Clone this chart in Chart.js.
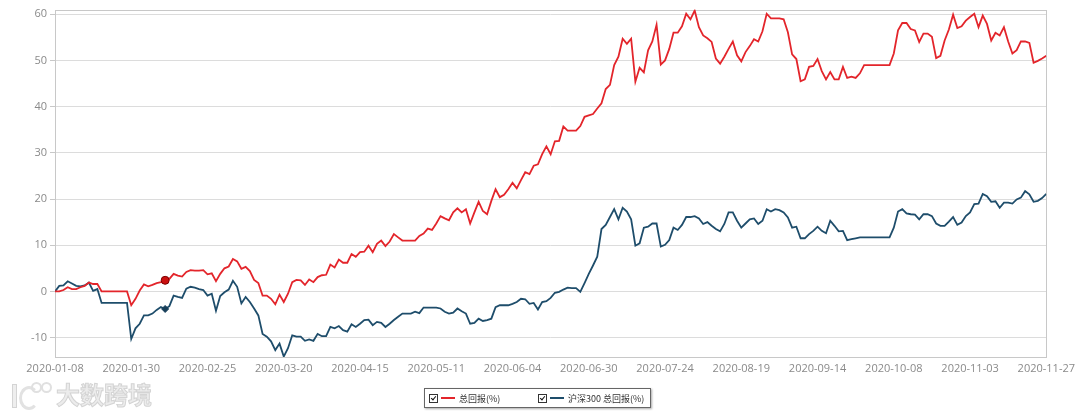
<!DOCTYPE html>
<html>
<head>
<meta charset="utf-8">
<script src="https://cdn.jsdelivr.net/npm/chart.js@4.4.0/dist/chart.umd.min.js"></script>
<style>
html,body{margin:0;padding:0;background:#fff;}
#wrap{position:relative;width:1080px;height:414px;overflow:hidden;background:#fff;}
#chartBox{position:absolute;left:0;top:0;width:1080px;height:414px;}
#legend{position:absolute;left:424px;top:388px;width:225px;height:18px;border:1px solid #666;box-shadow:1px 1px 2px #aaa;background:#fff;font-family:"Noto Sans CJK SC","Open Sans",sans-serif;font-size:9px;color:#333;}
.item{position:absolute;top:0;height:18px;display:flex;align-items:center;white-space:nowrap;}
.cb{width:7px;height:7px;border:1px solid #333;position:relative;background:#fff;}
.cb:after{content:"";position:absolute;left:2px;top:0px;width:2px;height:4px;border:solid #111;border-width:0 1.5px 1.5px 0;transform:rotate(40deg);}
.ln{width:14px;height:2px;margin:0 4px 0 3px;}
#wm{position:absolute;left:8px;top:378px;width:140px;height:34px;font-family:"Noto Sans CJK SC",sans-serif;white-space:nowrap;}
#wm .txt{position:absolute;left:48px;top:-2px;font-size:24px;font-weight:bold;color:#ececec;letter-spacing:0px;-webkit-text-stroke:1px #d4d4d4;white-space:nowrap;}
#wm .logo1{position:absolute;left:4px;top:6px;width:3px;height:22px;border:1px solid #d4d4d4;background:#eee;}
#wm .logo2{position:absolute;left:11px;top:8px;width:14px;height:18px;border:3px solid #e2e2e2;border-right-color:transparent;border-radius:50%;}
#wm .o1,#wm .o2{position:absolute;top:4px;width:7px;height:7px;border:2px solid #e0e0e0;border-radius:50%;}
#wm .o1{left:23px;} #wm .o2{left:33px;}
</style>
</head>
<body>
<div id="wrap">
  <div id="chartBox"><canvas id="c"></canvas></div>
  <div id="wm"><div class="logo1"></div><div class="logo2"></div><div class="o1"></div><div class="o2"></div><span class="txt">大数跨境</span></div>
  <div id="legend">
    <div class="item" style="left:4px;"><span class="cb"></span><span class="ln" style="background:#e3252b"></span><span>总回报(%)</span></div>
    <div class="item" style="left:113px;"><span class="cb"></span><span class="ln" style="background:#1e4d6b"></span><span>沪深300 总回报(%)</span></div>
  </div>
</div>
<script>
// ---- data ----
const tickLabels = ["2020-01-08","2020-01-30","2020-02-25","2020-03-20","2020-04-15","2020-05-11","2020-06-04","2020-06-30","2020-07-24","2020-08-19","2020-09-14","2020-10-08","2020-11-03","2020-11-27"];
const labelStep = 18; // points between shown date labels
const yTickValues = [-10,0,10,20,30,40,50,60];
const seriesNames = ["总回报(%)","沪深300 总回报(%)"];
const fundReturn = [
 0,0,0.3,0.9,0.5,0.5,0.9,1.2,1.9,1.6,
 1.6,0,0,0,0,0,0,0,-3.0,-1.6,
 0.2,1.5,1.1,1.4,1.8,2.0,2.4,2.7,3.8,3.4,
 3.2,4.2,4.6,4.5,4.5,4.6,3.7,3.9,2.2,3.8,
 5.0,5.4,7.0,6.5,4.9,5.3,4.4,2.5,1.8,-0.9,
 -0.9,-1.6,-2.8,-0.7,-2.3,-0.5,2.0,2.5,2.4,1.4,
 2.6,2.0,3.1,3.5,3.6,5.8,5.2,6.9,6.2,6.2,
 8.1,7.5,8.5,8.6,9.9,8.5,10.3,11.0,9.8,10.8,
 12.4,11.7,11.0,11.0,11.0,11.0,12.0,12.5,13.6,13.3,
 14.7,16.3,15.8,15.4,17.1,18.0,17.1,17.8,14.7,17.1,
 19.4,17.4,16.7,19.6,22.1,20.4,20.9,22.1,23.5,22.3,
 24.1,25.8,25.4,27.2,27.5,29.7,31.4,29.7,32.5,32.6,
 35.7,34.8,34.8,34.8,35.8,37.8,38.1,38.4,39.6,40.7,
 43.8,44.7,49.0,50.8,54.7,53.6,54.7,45.4,48.4,47.4,
 52.2,54.1,57.7,49.1,50.0,52.5,56.0,56.0,57.4,60.1,
 58.9,60.8,57.2,55.4,54.8,54.0,50.4,49.3,50.8,52.5,
 54.1,51.1,49.8,51.8,53.1,54.6,54.1,56.3,60.1,59.1,
 59.1,59.1,58.9,56.1,51.3,50.3,45.5,45.9,48.6,48.8,
 50.3,47.7,45.9,47.5,45.9,45.9,48.6,46.2,46.5,46.2,
 47.2,49.0,49.0,49.0,49.0,49.0,49.0,49.0,51.5,56.5,
 58.1,58.1,56.8,56.5,54.0,55.8,55.8,55.1,50.5,51.0,
 54.3,56.7,59.9,57.0,57.4,58.6,59.4,60.1,57.2,59.7,
 57.9,54.3,56.0,55.4,57.2,54.1,51.5,52.2,54.1,54.1,
 53.8,49.5,49.9,50.4,51.0
];
const hs300Return = [
 0,1.2,1.3,2.2,1.7,1.2,1.1,1.3,1.9,0.1,
 0.5,-2.5,-2.5,-2.5,-2.5,-2.5,-2.5,-2.5,-10.3,-8.0,
 -7.0,-5.2,-5.2,-4.8,-4.0,-3.4,-3.8,-3.2,-0.9,-1.2,
 -1.4,0.6,1.0,0.8,0.5,0.3,-0.9,-0.5,-4.2,-1.0,
 -0.2,0.4,2.3,1.0,-2.6,-1.2,-2.3,-3.7,-5.2,-9.2,
 -9.8,-10.8,-12.7,-11.3,-14.1,-12.3,-9.5,-9.8,-9.8,-10.7,
 -10.4,-10.7,-9.2,-9.7,-9.7,-7.7,-8.0,-7.5,-8.4,-8.7,
 -7.1,-7.7,-7.0,-6.2,-6.1,-7.3,-6.6,-6.8,-7.7,-7.0,
 -6.2,-5.5,-4.8,-4.8,-4.8,-4.4,-4.7,-3.5,-3.5,-3.5,
 -3.5,-3.7,-4.4,-4.8,-4.6,-3.7,-4.3,-4.8,-7.0,-6.8,
 -5.9,-6.4,-6.2,-5.9,-3.4,-3.0,-3.0,-3.0,-2.7,-2.3,
 -1.6,-1.7,-2.7,-2.5,-3.9,-2.3,-2.1,-1.4,-0.3,-0.1,
 0.4,0.8,0.7,0.7,-0.1,1.8,3.8,5.6,7.5,13.5,
 14.4,16.1,17.8,15.6,18.1,17.3,15.6,9.9,10.4,13.8,
 14.0,14.7,14.7,9.7,10.1,11.1,13.8,13.3,14.4,16.1,
 16.1,16.3,15.8,14.6,15.0,14.2,13.5,13.0,14.6,17.1,
 17.1,15.3,13.8,14.7,15.6,15.8,14.6,15.3,17.8,17.3,
 17.8,17.6,17.1,16.0,13.8,14.0,11.5,11.5,12.4,13.1,
 14.0,13.1,12.6,15.3,14.2,13.0,13.1,11.1,11.3,11.5,
 11.7,11.7,11.7,11.7,11.7,11.7,11.7,11.7,13.8,17.3,
 17.8,16.9,16.7,16.6,15.6,16.7,16.7,16.3,14.7,14.2,
 14.2,15.1,16.1,14.4,14.9,16.3,17.1,18.9,19.0,21.1,
 20.6,19.4,19.5,18.1,19.2,19.2,19.0,19.9,20.3,21.7,
 21.0,19.4,19.6,20.2,21.1
];
const markerIndex = 26;

// ---- chart ----
const lastIndex = (tickLabels.length - 1) * labelStep;
const toPoints = arr => arr.map((v, i) => ({x: i, y: v}));
const framePlugin = {
  id: 'frame',
  beforeDatasetsDraw(chart) {
    const {ctx, chartArea: a} = chart;
    ctx.save();
    ctx.strokeStyle = '#c8c8c8';
    ctx.lineWidth = 1;
    ctx.strokeRect(Math.round(a.left) + 0.5, Math.round(a.top) + 0.5, Math.round(a.right - a.left), Math.round(a.bottom - a.top));
    ctx.restore();
  }
};
const tickFont = {family: '"Open Sans", "Liberation Sans", sans-serif', size: 11};
new Chart(document.getElementById('c'), {
  type: 'line',
  data: {
    datasets: [
      {
        label: seriesNames[0],
        data: toPoints(fundReturn),
        borderColor: '#e3252b',
        borderWidth: 1.8,
        tension: 0,
        pointRadius: fundReturn.map((_, i) => i === markerIndex ? 4 : 0),
        pointBackgroundColor: '#cc1010',
        pointBorderColor: '#7a0000',
        pointBorderWidth: 1
      },
      {
        label: seriesNames[1],
        data: toPoints(hs300Return),
        borderColor: '#1e4d6b',
        borderWidth: 1.8,
        tension: 0,
        pointStyle: 'rectRot',
        pointRadius: hs300Return.map((_, i) => i === markerIndex ? 3.5 : 0),
        pointBackgroundColor: '#183f5a',
        pointBorderColor: '#183f5a',
        pointBorderWidth: 1
      }
    ]
  },
  options: {
    responsive: true,
    maintainAspectRatio: false,
    animation: false,
    layout: {padding: {left: 0, right: 33, top: 7, bottom: 35}},
    plugins: {legend: {display: false}, tooltip: {enabled: false}},
    scales: {
      x: {
        type: 'linear',
        min: 0,
        max: lastIndex,
        afterBuildTicks: s => { s.ticks = tickLabels.map((_, k) => ({value: k * labelStep})); },
        afterFit: s => { s.height = 22; },
        grid: {display: false, drawTicks: false},
        border: {display: false},
        ticks: {
          color: '#8a8a8a', font: tickFont, padding: 5, maxRotation: 0, autoSkip: false,
          callback: v => tickLabels[Math.round(v / labelStep)]
        }
      },
      y: {
        min: -14.2,
        max: 61,
        afterBuildTicks: s => { s.ticks = yTickValues.map(v => ({value: v})); },
        afterFit: s => { s.width = 55; },
        grid: {color: '#dcdcdc', tickLength: 5, tickColor: '#c8c8c8'},
        border: {display: false},
        ticks: {color: '#8a8a8a', font: tickFont, padding: 3}
      }
    }
  },
  plugins: [framePlugin]
});
</script>
</body>
</html>
